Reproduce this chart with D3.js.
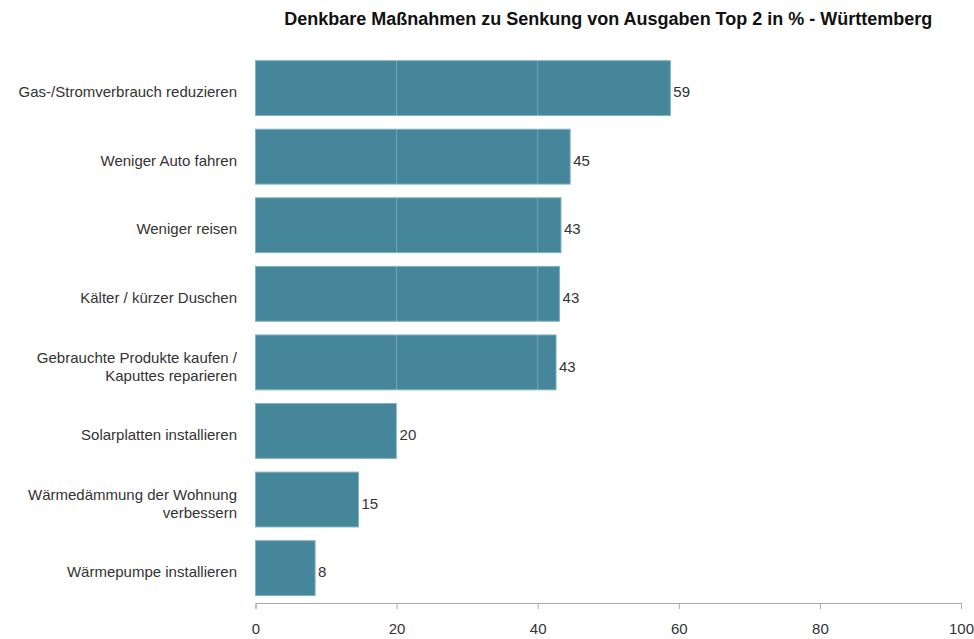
<!DOCTYPE html>
<html>
<head>
<meta charset="utf-8">
<script src="https://cdn.jsdelivr.net/npm/d3@7"></script>
<style>
  body { margin: 0; background: #fff; }
  svg { display: block; font-family: "Liberation Sans", Arial, sans-serif; }
</style>
</head>
<body>
<svg id="chart" width="974" height="639"></svg>
<script>
const title = "Denkbare Maßnahmen zu Senkung von Ausgaben Top 2 in % - Württemberg";
const categories = [
  ["Gas-/Stromverbrauch reduzieren"],
  ["Weniger Auto fahren"],
  ["Weniger reisen"],
  ["Kälter / kürzer Duschen"],
  ["Gebrauchte Produkte kaufen /", "Kaputtes reparieren"],
  ["Solarplatten installieren"],
  ["Wärmedämmung der Wohnung", "verbessern"],
  ["Wärmepumpe installieren"]
];
const values = [58.8, 44.6, 43.3, 43.1, 42.6, 20.0, 14.6, 8.45];
const xTicks = [0, 20, 40, 60, 80, 100];

(function () {
const svg = d3.select("#chart");
const mLeft = 255.5, mRight = 961, mTop = 53.8, mBottom = 602.4;

const x = d3.scaleLinear().domain([0, 100]).range([mLeft, mRight]);
const y = d3.scaleBand().domain(d3.range(categories.length)).range([mTop, mBottom])
  .paddingInner(0.2).paddingOuter(0.1);

// bars
svg.append("g").selectAll("rect").data(values).join("rect")
  .attr("x", x(0))
  .attr("y", (d, i) => y(i))
  .attr("width", d => x(d) - x(0))
  .attr("height", y.bandwidth())
  .attr("fill", "#45869b")
  .attr("stroke", "#7fb2c2")
  .attr("stroke-width", 1);

// gridlines over bars (only visible on bars)
svg.append("g").selectAll("line").data(xTicks.filter(t => t > 0 && t < 100)).join("line")
  .attr("x1", d => x(d)).attr("x2", d => x(d))
  .attr("y1", mTop).attr("y2", mBottom)
  .attr("stroke", "#ffffff").attr("stroke-opacity", 0.25).attr("stroke-width", 1);

const yOff = 4;

// value labels
svg.append("g").selectAll("text").data(values).join("text")
  .attr("x", d => x(d) + 3)
  .attr("y", (d, i) => y(i) + y.bandwidth() / 2 + yOff)
  .attr("dy", "0.35em")
  .attr("font-size", 15)
  .attr("fill", "#333")
  .text(d => Math.round(d));

// category labels
const cat = svg.append("g").selectAll("text").data(categories).join("text")
  .attr("text-anchor", "end")
  .attr("font-size", 15)
  .attr("fill", "#333")
  .attr("x", 237)
  .attr("y", (d, i) => y(i) + y.bandwidth() / 2 + yOff);
cat.each(function(lines) {
  const t = d3.select(this);
  const n = lines.length;
  lines.forEach((ln, k) => {
    t.append("tspan").attr("x", 237)
      .attr("dy", k === 0 ? (0.35 - (n - 1) * 0.6) + "em" : "1.2em")
      .text(ln);
  });
});

// x axis
const axis = d3.axisBottom(x).tickValues(xTicks).tickSize(6).tickPadding(14);
const ax = svg.append("g").attr("transform", `translate(0,${mBottom + 0.6})`).call(axis);
ax.select(".domain").attr("stroke", "#aaa");
ax.selectAll(".tick line").attr("stroke", "#aaa");
ax.selectAll(".tick text").attr("font-size", 15).attr("fill", "#333")
  .attr("font-family", "Liberation Sans, Arial, sans-serif");

// title
svg.append("text")
  .attr("x", (mLeft + mRight) / 2)
  .attr("y", 24.5)
  .attr("text-anchor", "middle")
  .attr("font-size", 18)
  .attr("font-weight", "bold")
  .attr("fill", "#111")
  .text(title);
})();
</script>
</body>
</html>
